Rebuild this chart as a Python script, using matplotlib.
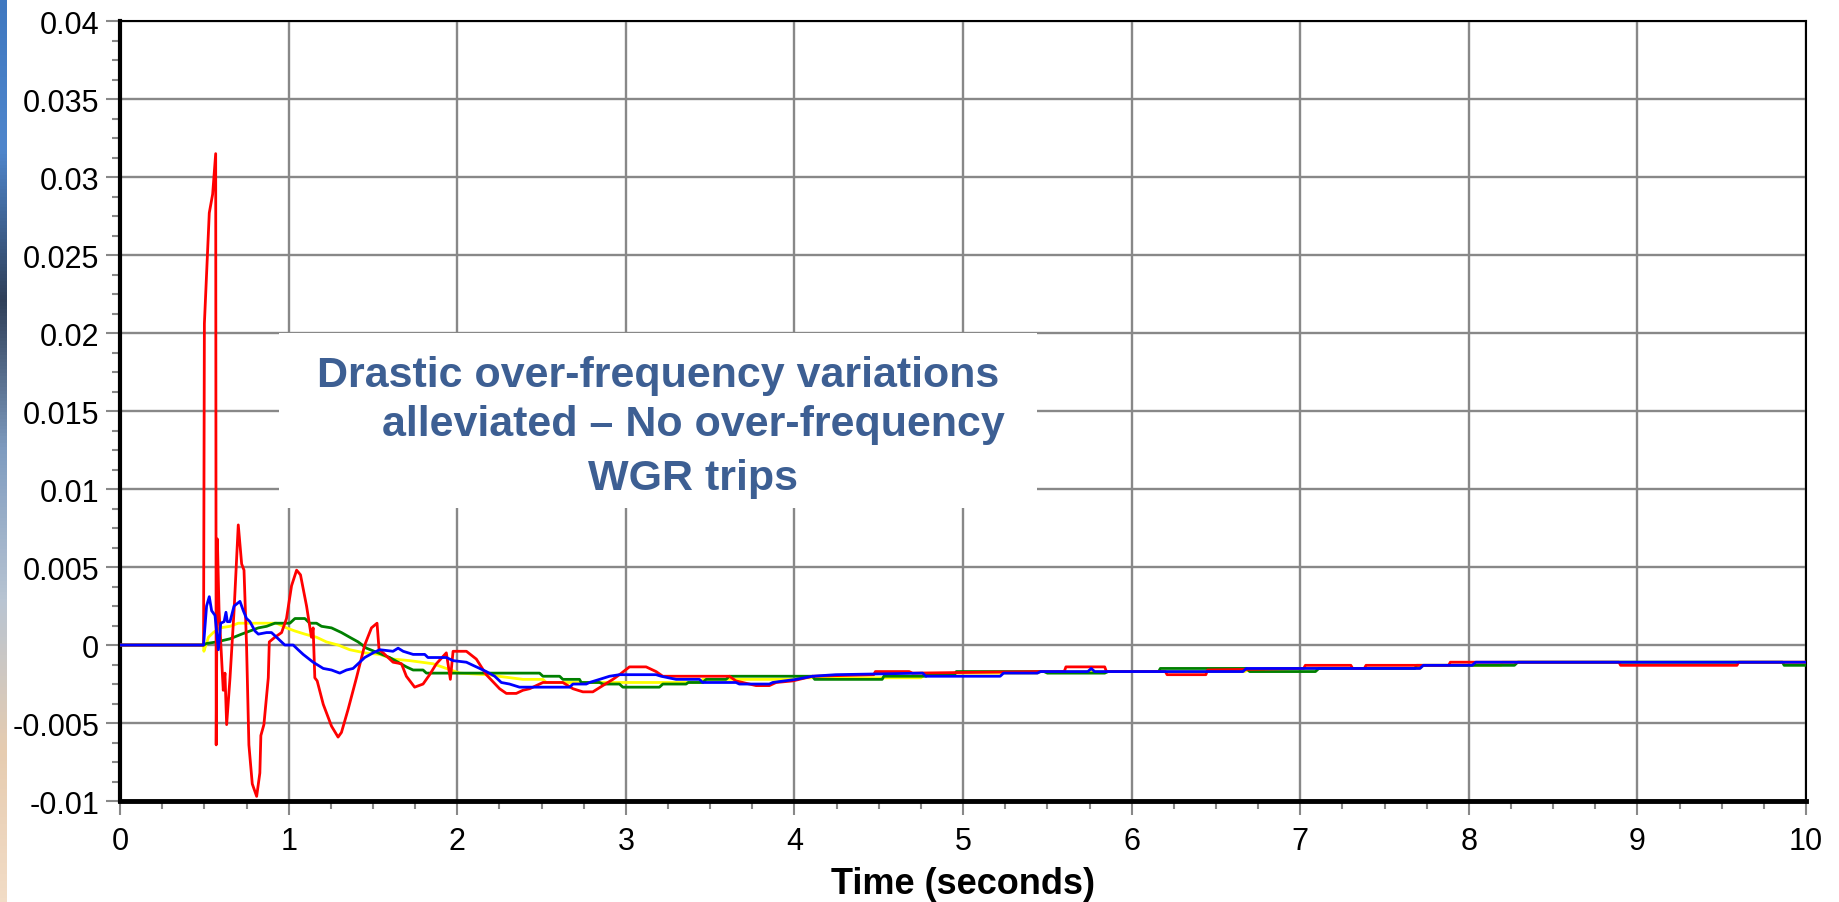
import numpy as np
import matplotlib
matplotlib.use('Agg')
import matplotlib.pyplot as plt
from matplotlib.ticker import MultipleLocator, FuncFormatter
from matplotlib.patches import Rectangle
from matplotlib.colors import LinearSegmentedColormap

plt.rcParams['font.family'] = ['Liberation Sans', 'DejaVu Sans']

# frequency deviation traces (time in s)
t_red = [0.0, 0.495, 0.500, 0.529, 0.549, 0.567, 0.570, 0.577, 0.587, 0.612,
         0.622, 0.632, 0.652, 0.676, 0.701, 0.721, 0.735, 0.750, 0.764, 0.784,
         0.810, 0.829, 0.835, 0.853, 0.879, 0.885, 0.918, 0.958, 0.987, 1.017,
         1.047, 1.070, 1.106, 1.135, 1.145, 1.155, 1.169, 1.205, 1.254, 1.293,
         1.313, 1.353, 1.402, 1.451, 1.491, 1.524, 1.536, 1.560, 1.619, 1.669,
         1.698, 1.747, 1.797, 1.836, 1.876, 1.935, 1.959, 1.975, 2.054, 2.113,
         2.172, 2.251, 2.291, 2.350, 2.389, 2.429, 2.508, 2.626, 2.686, 2.745,
         2.804, 2.863, 2.923, 2.962, 3.021, 3.120, 3.179, 3.219, 3.614, 3.653,
         3.772, 3.851, 3.891, 3.989, 4.107, 4.470, 4.480, 4.680, 4.700, 5.450,
         5.600, 5.610, 5.840, 5.850, 6.200, 6.210, 6.440, 6.450, 7.020, 7.030,
         7.300, 7.310, 7.380, 7.390, 7.560, 7.570, 7.880, 7.890, 8.890, 8.900,
         9.590, 9.600, 10.0]
y_red = [0.0, 0.0, 0.0206, 0.0277, 0.0289, 0.0315, -0.0064, 0.0068, 0.0022, -0.0029,
         -0.0018, -0.0051, -0.0021, 0.0022, 0.0077, 0.0052, 0.0048, 0.0, -0.0064, -0.0089,
         -0.0097, -0.0082, -0.0058, -0.0051, -0.0021, 0.0002, 0.0005, 0.0008, 0.0017, 0.0038,
         0.0048, 0.0045, 0.0025, 0.0005, 0.0011, -0.0021, -0.0023, -0.0038, -0.0052, -0.0059,
         -0.0056, -0.0041, -0.0021, 0.0, 0.0011, 0.0014, -0.0003, -0.0005, -0.0011, -0.0012,
         -0.0020, -0.0027, -0.0025, -0.0019, -0.0012, -0.0005, -0.0022, -0.0004, -0.0004, -0.0009,
         -0.0019, -0.0028, -0.0031, -0.0031, -0.0029, -0.0028, -0.0024, -0.0024, -0.0028, -0.0030,
         -0.0030, -0.0026, -0.0022, -0.0019, -0.0014, -0.0014, -0.0017, -0.0020, -0.0020, -0.0023,
         -0.0026, -0.0026, -0.0024, -0.0023, -0.0020, -0.0019, -0.0017, -0.0017, -0.0018, -0.0017,
         -0.0017, -0.0014, -0.0014, -0.0017, -0.0017, -0.0019, -0.0019, -0.0016, -0.0015, -0.0013,
         -0.0013, -0.0015, -0.0015, -0.0013, -0.0013, -0.0013, -0.0013, -0.0011, -0.0011, -0.0013,
         -0.0013, -0.0011, -0.0011]

t_blue = [0.0, 0.495, 0.513, 0.529, 0.543, 0.563, 0.583, 0.597, 0.617, 0.628,
          0.636, 0.652, 0.676, 0.711, 0.731, 0.750, 0.770, 0.800, 0.820, 0.869,
          0.898, 0.938, 0.977, 1.027, 1.056, 1.086, 1.145, 1.205, 1.254, 1.303,
          1.343, 1.382, 1.451, 1.501, 1.540, 1.619, 1.649, 1.679, 1.738, 1.807,
          1.826, 1.935, 1.975, 2.054, 2.093, 2.133, 2.172, 2.222, 2.261, 2.310,
          2.369, 2.666, 2.686, 2.765, 2.784, 2.844, 2.903, 2.962, 3.179, 3.209,
          3.298, 3.436, 3.456, 3.653, 3.673, 3.851, 3.871, 4.009, 4.107, 4.245,
          4.760, 4.780, 5.220, 5.240, 5.440, 5.460, 5.740, 5.760, 5.780, 6.660,
          6.680, 7.710, 7.730, 8.020, 8.040, 10.0]
y_blue = [0.0, 0.0, 0.0025, 0.0031, 0.0022, 0.0019, -0.0003, 0.0014, 0.0015, 0.0021,
          0.0015, 0.0015, 0.0025, 0.0028, 0.0022, 0.0017, 0.0015, 0.0009, 0.0007, 0.0008,
          0.0008, 0.0004, 0.0, 0.0, -0.0003, -0.0006, -0.0011, -0.0015, -0.0016, -0.0018,
          -0.0016, -0.0015, -0.0008, -0.0005, -0.0003, -0.0004, -0.0002, -0.0004, -0.0006, -0.0006,
          -0.0008, -0.0008, -0.0010, -0.0011, -0.0013, -0.0015, -0.0017, -0.0020, -0.0024, -0.0025,
          -0.0027, -0.0027, -0.0025, -0.0025, -0.0024, -0.0022, -0.0020, -0.0019, -0.0019, -0.0020,
          -0.0022, -0.0022, -0.0024, -0.0024, -0.0025, -0.0025, -0.0024, -0.0022, -0.0020, -0.0019,
          -0.0018, -0.0020, -0.0020, -0.0018, -0.0018, -0.0017, -0.0017, -0.0015, -0.0017, -0.0017,
          -0.0015, -0.0015, -0.0013, -0.0013, -0.0011, -0.0011]

t_green = [0.0, 0.495, 0.513, 0.573, 0.652, 0.721, 0.770, 0.820, 0.869, 0.918,
           1.007, 1.037, 1.096, 1.125, 1.165, 1.195, 1.254, 1.313, 1.362, 1.412,
           1.461, 1.530, 1.599, 1.649, 1.698, 1.738, 1.797, 1.817, 2.488, 2.508,
           2.607, 2.626, 2.725, 2.735, 2.844, 2.863, 2.962, 2.982, 3.199, 3.219,
           3.357, 3.370, 3.456, 3.476, 3.594, 3.614, 4.107, 4.120, 4.520, 4.530,
           4.780, 4.790, 4.950, 4.960, 5.480, 5.500, 5.840, 5.860, 6.160, 6.170,
           6.680, 6.700, 7.090, 7.110, 7.680, 7.690, 8.270, 8.290, 9.860, 9.870,
           10.0]
y_green = [0.0, 0.0, 0.0001, 0.0002, 0.0004, 0.0007, 0.0009, 0.0011, 0.0012, 0.0014,
           0.0014, 0.0017, 0.0017, 0.0014, 0.0014, 0.0012, 0.0011, 0.0008, 0.0005, 0.0002,
           -0.0002, -0.0005, -0.0008, -0.0011, -0.0014, -0.0016, -0.0016, -0.0018, -0.0018, -0.0020,
           -0.0020, -0.0022, -0.0022, -0.0024, -0.0024, -0.0025, -0.0025, -0.0027, -0.0027, -0.0025,
           -0.0025, -0.0024, -0.0024, -0.0022, -0.0022, -0.0020, -0.0020, -0.0022, -0.0022, -0.0020,
           -0.0020, -0.0019, -0.0019, -0.0017, -0.0017, -0.0018, -0.0018, -0.0017, -0.0017, -0.0015,
           -0.0015, -0.0017, -0.0017, -0.0015, -0.0015, -0.0013, -0.0013, -0.0011, -0.0011, -0.0013,
           -0.0013]

t_yellow = [0.0, 0.495, 0.497, 0.524, 0.553, 0.592, 0.652, 0.701, 0.849, 0.928,
            0.987, 1.037, 1.096, 1.165, 1.224, 1.293, 1.362, 1.451, 1.540, 1.619,
            1.718, 1.856, 1.935, 2.014, 2.172, 2.389, 2.508, 2.528, 3.436, 3.456,
            4.009, 4.030, 4.750, 4.770, 4.930, 4.940, 5.440, 5.460, 6.670, 6.690,
            6.780, 6.790, 7.710, 7.730, 8.190, 8.200, 10.0]
y_yellow = [0.0, 0.0, -0.0004, 0.0005, 0.0008, 0.0011, 0.0012, 0.0014, 0.0014, 0.0014,
            0.0011, 0.0009, 0.0007, 0.0005, 0.0002, 0.0, -0.0003, -0.0005, -0.0006, -0.0009,
            -0.0010, -0.0012, -0.0015, -0.0018, -0.0019, -0.0022, -0.0022, -0.0024, -0.0024, -0.0022,
            -0.0022, -0.0021, -0.0021, -0.0019, -0.0019, -0.0018, -0.0018, -0.0017, -0.0017, -0.0016,
            -0.0016, -0.0015, -0.0015, -0.0013, -0.0013, -0.0011, -0.0011]

note_lines = ['Drastic over-frequency variations',
              'alleviated \u2013 No over-frequency',
              'WGR trips']

#%% figure
fig = plt.figure(figsize=(18.39, 9.03), dpi=100)

# strip of the slide background on the left edge
bg = LinearSegmentedColormap.from_list('bg', ['#3f78c0', '#4f86cc', '#2f3f58', '#7f9cc0',
                                              '#b8c4d2', '#e6ccb0', '#f2dcc6'])
ax_bg = fig.add_axes([0, 0, 7 / 1839, 1])
ax_bg.imshow(np.linspace(0, 1, 256).reshape(-1, 1), aspect='auto', cmap=bg)
ax_bg.axis('off')

ax = fig.add_axes([0.0653, 0.1118, 0.9168, 0.8638])

ax.plot(t_yellow, y_yellow, color='#ffff00', lw=2.0, zorder=3)
ax.plot(t_green, y_green, color='#008000', lw=2.0, zorder=4)
ax.plot(t_red, y_red, color='#ff0000', lw=2.0, zorder=5)
ax.plot(t_blue, y_blue, color='#0000ff', lw=2.0, zorder=6)

ax.set_xlim(0, 10)
ax.set_ylim(-0.01, 0.04)
ax.xaxis.set_major_locator(MultipleLocator(1))
ax.xaxis.set_minor_locator(MultipleLocator(0.25))
ax.yaxis.set_major_locator(MultipleLocator(0.005))
ax.yaxis.set_minor_locator(MultipleLocator(0.00125))
ax.yaxis.set_major_formatter(FuncFormatter(lambda v, p: '%g' % round(v, 4)))

ax.grid(True, which='major', color='#888888', lw=1.7, zorder=1)
ax.set_axisbelow(True)
ax.tick_params(which='major', length=10, width=1.5, color='#888888', labelsize=22, pad=5)
ax.tick_params(which='minor', length=6, width=1.5, color='#888888')
ax.tick_params(axis='x', which='major', pad=8)

ax.spines['left'].set_linewidth(3)
ax.spines['bottom'].set_linewidth(3.5)
ax.spines['top'].set_linewidth(1.5)
ax.spines['right'].set_linewidth(1.5)

ax.set_xlabel('Time (seconds)', fontsize=26, fontweight='bold', labelpad=7)

# white box behind the note
ax.add_patch(Rectangle((0.94, 0.0088), 4.5, 0.0112, facecolor='white', edgecolor='none', zorder=2))
ax.text(3.19, 0.0173, note_lines[0], ha='center', va='center', fontsize=31,
        fontweight='bold', color='#3d5f93', zorder=7)
ax.text(3.40, 0.0142, note_lines[1], ha='center', va='center', fontsize=31,
        fontweight='bold', color='#3d5f93', zorder=7)
ax.text(3.40, 0.0107, note_lines[2], ha='center', va='center', fontsize=31,
        fontweight='bold', color='#3d5f93', zorder=7)

fig.savefig('out.png', dpi=100)
